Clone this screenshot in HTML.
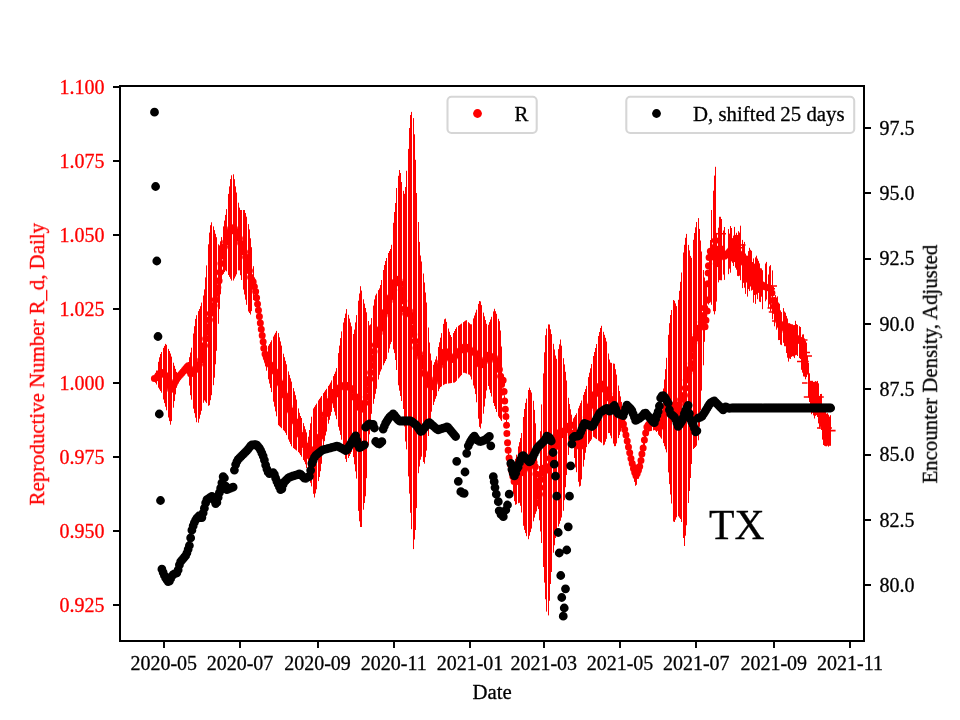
<!DOCTYPE html>
<html><head><meta charset="utf-8"><title>TX</title>
<style>
html,body{margin:0;padding:0;background:#fff;}
body{width:960px;height:720px;overflow:hidden;}
svg{display:block;}
text{font-family:"Liberation Serif",serif;font-size:20.83px;stroke-width:0.3px;stroke:#000;}
text[fill="#f00"]{stroke:#f00;}
.tk{font-size:20px;}
</style></head><body>
<svg width="960" height="720" viewBox="0 0 960 720">
<rect width="960" height="720" fill="#fff"/>
<defs><clipPath id="ax"><rect x="120.0" y="86.5" width="744.2" height="554.3"/></clipPath></defs>
<g clip-path="url(#ax)">
<path d="M154.5 375.7V381.2M155.5 373.1V382.8M156.5 370.5V384.5M158.5 361.8V387.7M159.5 357.3V389.4M160.5 354.0V391.0M161.5 352.0V392.7M163.5 347.9V399.5M164.5 345.9V403.1M165.5 343.9V406.7M166.5 344.8V410.3M168.5 348.9V417.5M169.5 351.0V421.1M170.5 353.5V424.7M171.5 356.6V421.1M173.5 362.7V407.7M174.5 365.8V401.1M175.5 368.9V394.4M176.5 371.9V387.7M178.5 373.9V379.8M179.5 372.8V378.6M180.5 371.7V377.4M181.5 370.6V376.2M183.5 368.3V373.8M184.5 367.2V372.6M185.5 366.1V371.4M186.5 365.0V370.2M188.5 362.0V370.9M189.5 357.2V385.6M190.5 352.5V395.2M191.5 347.7V399.7M193.5 333.5V408.7M194.5 326.2V413.2M195.5 318.9V417.7M196.5 315.2V422.2M198.5 311.1V422.7M199.5 309.0V418.7M200.5 306.2V414.7M201.5 302.6V410.8M203.5 295.5V402.8M204.5 289.4V400.4M205.5 277.4V401.7M206.5 265.4V403.1M208.5 244.3V405.8M209.5 232.6V405.2M210.5 225.2V400.2M211.5 222.3V395.2M213.5 226.4V385.2M214.5 230.1V377.7M215.5 233.8V364.3M216.5 237.2V350.8M218.5 244.3V323.8M219.5 245.4V309.1M220.5 241.3V294.3M221.5 237.1V279.6M223.5 226.4V273.8M224.5 220.6V272.1M225.5 214.9V270.5M226.5 209.1V271.3M228.5 193.9V275.0M229.5 186.4V276.9M230.5 179.1V278.8M231.5 175.3V280.6M233.5 174.3V280.5M234.5 179.2V278.5M235.5 186.4V276.5M236.5 192.5V274.4M238.5 202.7V270.4M239.5 207.6V270.4M240.5 210.0V275.2M241.5 210.0V280.0M243.5 210.0V289.6M244.5 210.0V294.5M245.5 213.0V299.7M246.5 216.7V304.8M248.5 224.1V311.5M249.5 229.4V313.0M250.5 238.3V314.5M251.5 247.2V311.1M253.5 266.2V300.0M254.5 281.0V293.3M255.5 287.4V293.5M256.5 293.8V300.5M258.5 306.7V314.5M259.5 313.1V321.4M260.5 319.5V328.4M261.5 325.9V335.4M263.5 338.8V351.4M264.5 342.7V362.1M265.5 344.1V366.4M266.5 345.6V370.7M268.5 345.7V379.3M269.5 344.1V383.6M270.5 342.2V387.9M271.5 340.3V392.1M273.5 336.5V401.7M274.5 334.6V406.6M275.5 332.8V411.4M276.5 330.9V416.3M278.5 333.1V425.2M279.5 337.3V426.2M280.5 341.4V427.2M281.5 345.6V428.2M283.5 353.7V430.2M284.5 357.2V431.2M285.5 360.8V432.8M286.5 364.3V435.1M288.5 371.4V439.5M289.5 374.9V441.8M290.5 378.3V444.0M291.5 381.6V446.3M293.5 388.1V448.1M294.5 391.4V448.9M295.5 395.2V449.7M296.5 399.6V450.5M298.5 408.4V452.1M299.5 412.8V453.3M300.5 416.0V455.0M301.5 418.0V456.7M303.5 423.1V460.0M304.5 426.2V461.7M305.5 429.3V464.3M306.5 432.4V468.0M308.5 436.7V475.4M309.5 430.0V479.1M310.5 423.3V482.8M311.5 416.7V486.4M313.5 408.4V493.8M314.5 406.8V497.5M315.5 405.2V493.4M316.5 403.6V489.3M318.5 400.4V481.1M319.5 398.9V477.0M320.5 397.5V471.2M321.5 396.0V463.8M323.5 393.1V448.8M324.5 391.7V441.2M325.5 390.2V435.5M326.5 388.8V431.6M328.5 385.9V423.7M329.5 384.5V419.8M330.5 382.6V415.8M331.5 380.4V411.9M333.5 376.1V407.9M334.5 373.9V411.7M335.5 371.6V415.5M336.5 368.1V419.2M338.5 353.1V426.8M339.5 345.6V430.6M340.5 338.1V434.9M341.5 331.4V439.7M343.5 322.5V449.3M344.5 318.0V454.1M345.5 313.6V458.9M346.5 309.1V462.0M348.5 314.8V458.0M349.5 318.6V456.0M350.5 322.5V454.0M351.5 326.3V452.0M353.5 334.0V457.1M354.5 329.6V464.3M355.5 322.4V471.4M356.5 315.1V478.6M358.5 300.7V510.9M359.5 293.5V521.3M360.5 286.2V527.0M361.5 290.6V527.0M363.5 299.3V509.7M364.5 303.6V503.0M365.5 308.0V496.3M366.5 312.3V478.2M368.5 321.0V445.3M369.5 325.3V434.3M370.5 324.4V423.3M371.5 318.1V413.8M373.5 305.6V403.8M374.5 299.4V398.8M375.5 295.4V393.8M376.5 293.6V388.8M378.5 290.1V379.5M379.5 288.4V374.8M380.5 285.0V371.5M381.5 280.0V369.4M383.5 270.0V365.3M384.5 265.0V363.2M385.5 261.0V361.1M386.5 258.0V359.1M388.5 253.0V352.7M389.5 251.0V348.5M390.5 249.0V344.2M391.5 244.8V341.9M393.5 222.8V349.4M394.5 212.0V353.1M395.5 203.0V360.0M396.5 188.0V370.0M398.5 175.8V385.3M399.5 170.0V390.7M400.5 173.0V396.0M401.5 182.0V401.0M403.5 190.8V409.0M404.5 193.8V426.5M405.5 187.0V441.5M406.5 170.8V449.4M408.5 148.9V476.4M409.5 128.0V493.6M410.5 115.0V512.8M411.5 111.9V529.2M413.5 118.1V549.1M414.5 134.3V539.5M415.5 159.8V530.0M416.5 193.0V508.1M418.5 222.0V473.2M419.5 241.9V466.5M420.5 255.5V459.7M421.5 261.5V456.7M423.5 273.5V462.0M424.5 282.5V463.7M425.5 292.5V457.2M426.5 302.5V450.6M428.5 327.5V436.0M429.5 342.5V427.5M430.5 353.5V418.9M431.5 360.5V411.7M433.5 364.8V405.0M434.5 362.2V401.7M435.5 359.5V398.8M436.5 356.3V396.2M438.5 347.0V391.2M439.5 342.3V388.8M440.5 337.7V387.1M441.5 333.1V386.4M443.5 323.9V385.1M444.5 319.3V384.4M445.5 318.6V383.9M446.5 321.9V383.8M448.5 328.5V383.5M449.5 331.8V383.3M450.5 335.0V383.2M451.5 337.0V383.0M453.5 333.0V382.7M454.5 331.0V382.6M455.5 329.0V381.9M456.5 327.3V380.8M458.5 325.8V378.5M459.5 325.1V377.4M460.5 324.3V376.2M461.5 323.6V375.1M463.5 322.1V372.8M464.5 321.3V372.8M465.5 320.6V373.2M466.5 320.2V373.6M468.5 322.2V374.4M469.5 323.2V374.8M470.5 324.2V376.5M471.5 324.3V379.5M473.5 318.4V385.5M474.5 315.5V388.5M475.5 312.6V394.1M476.5 309.7V402.3M478.5 303.9V418.7M479.5 301.0V426.9M480.5 301.4V428.5M481.5 305.1V423.6M483.5 312.6V413.7M484.5 316.3V406.5M485.5 320.0V398.5M486.5 323.8V390.5M488.5 324.8V386.0M489.5 322.1V389.5M490.5 319.5V393.0M491.5 316.8V396.5M493.5 311.4V403.0M494.5 308.8V406.0M495.5 311.2V409.0M496.5 313.8V412.0M498.5 318.8V416.5M499.5 321.2V418.0M500.5 330.5V419.5M501.5 346.5V421.0M503.5 378.0V384.0M504.5 395.3V401.3M505.5 408.2V414.2M506.5 420.0V426.0M508.5 450.2V456.2M509.5 457.4V463.4M510.5 462.3V468.3M511.5 464.0V476.2M513.5 464.8V493.8M514.5 462.9V501.2M515.5 458.8V504.8M516.5 454.7V504.2M518.5 446.4V503.2M519.5 442.2V502.8M520.5 438.1V505.8M521.5 433.0V512.5M523.5 417.0V525.8M524.5 409.0V529.9M525.5 402.9V533.1M526.5 398.6V536.2M528.5 390.0V539.2M529.5 387.7V535.7M530.5 390.1V532.1M531.5 392.5V528.6M533.5 400.8V521.3M534.5 409.9V517.6M535.5 423.3V513.9M536.5 450.0V511.4M538.5 498.0V509.0M539.5 466.0V520.3M540.5 431.2V531.5M541.5 404.4V543.0M543.5 373.4V567.0M544.5 352.3V582.6M545.5 335.2V599.3M546.5 328.6V611.6M548.5 324.4V615.4M549.5 324.5V600.8M550.5 329.3V584.0M551.5 334.1V572.0M553.5 343.8V552.7M554.5 349.5V545.3M555.5 355.5V538.0M556.5 358.8V531.8M558.5 349.1V526.5M559.5 344.3V523.8M560.5 339.5V520.8M561.5 345.7V517.5M563.5 358.2V510.8M564.5 364.4V500.2M565.5 371.8V487.2M566.5 380.5V475.0M568.5 397.8V455.0M569.5 404.0V447.1M570.5 409.3V441.4M571.5 414.7V435.7M573.5 418.3V444.0M574.5 416.7V458.0M575.5 415.0V467.4M576.5 413.3V472.2M578.5 408.3V481.8M579.5 405.7V486.6M580.5 403.1V485.8M581.5 400.5V479.4M583.5 394.9V466.6M584.5 392.0V459.8M585.5 389.1V452.8M586.5 385.9V447.1M588.5 377.1V444.1M589.5 372.7V442.5M590.5 368.3V441.0M591.5 364.0V439.5M593.5 356.0V436.9M594.5 352.0V437.6M595.5 348.0V438.4M596.5 344.0V439.1M598.5 336.0V440.6M599.5 332.0V441.3M600.5 328.0V442.1M601.5 325.8V442.8M603.5 331.8V445.3M604.5 334.8V444.6M605.5 337.8V441.7M606.5 341.5V438.9M608.5 353.5V433.1M609.5 359.5V433.0M610.5 362.6V435.6M611.5 362.9V438.3M613.5 363.5V443.6M614.5 363.8V446.2M615.5 369.2V446.1M616.5 374.6V443.4M618.5 385.5V438.1M619.5 391.0V435.0M620.5 396.4V431.7M621.5 401.9V428.3M623.5 417.7V430.5M624.5 421.0V436.0M625.5 424.3V441.3M626.5 428.8V446.4M628.5 438.1V456.0M629.5 442.6V460.8M630.5 447.3V465.6M631.5 451.4V470.0M633.5 459.1V477.9M634.5 462.1V481.9M635.5 464.3V485.8M636.5 464.6V484.8M638.5 461.8V478.6M639.5 459.1V475.5M640.5 454.9V471.1M641.5 447.7V465.4M643.5 438.4V453.5M644.5 433.0V445.8M645.5 427.9V439.5M646.5 423.0V434.5M648.5 417.6V431.6M649.5 415.2V431.4M650.5 414.4V431.1M651.5 415.2V430.9M653.5 416.8V430.4M654.5 417.6V430.1M655.5 418.2V430.7M656.5 418.6V432.0M658.5 419.4V434.7M659.5 419.8V436.0M660.5 415.5V437.4M661.5 406.5V438.7M663.5 388.5V443.1M664.5 379.5V446.2M665.5 369.2V449.3M666.5 357.8V452.4M668.5 334.8V472.4M669.5 323.2V484.1M670.5 315.0V494.5M671.5 310.0V503.5M673.5 300.0V521.5M674.5 300.8V522.0M675.5 303.4V519.7M676.5 306.1V517.3M678.5 299.8V516.3M679.5 290.8V517.7M680.5 281.8V519.0M681.5 272.5V522.0M683.5 252.5V538.0M684.5 244.8V546.0M685.5 237.8V535.7M686.5 233.9V525.3M688.5 244.9V503.0M689.5 250.4V491.0M690.5 255.9V478.0M691.5 257.8V464.0M693.5 239.8V449.0M694.5 233.0V448.0M695.5 227.3V447.0M696.5 222.0V445.7M698.5 218.1V440.3M699.5 228.9V426.8M700.5 240.5V410.2M701.5 251.5V390.6M703.5 270.0V365.3M704.5 277.5V341.8M705.5 285.0V325.5M706.5 286.5V316.5M708.5 272.0V304.5M709.5 256.0V301.5M710.5 240.0V301.6M711.5 210.0V304.8M713.5 190.7V311.2M714.5 175.6V314.4M715.5 166.8V311.2M716.5 232.9V301.6M718.5 227.7V282.4M719.5 216.8V280.1M720.5 216.8V280.2M721.5 219.0V280.3M723.5 230.5V274.6M724.5 227.0V279.9M728.5 229.1V274.2M729.5 233.6V268.7M730.5 226.0V272.7M731.5 228.0V261.4M732.5 238.1V262.8M733.5 235.6V266.0M734.5 226.9V262.1M735.5 234.9V267.7M736.5 232.8V269.7M737.5 235.0V275.9M738.5 231.2V276.2M739.5 232.6V275.7M740.5 225.7V280.2M742.5 239.9V288.1M743.5 244.0V282.9M744.5 241.9V287.7M745.5 253.6V293.9M746.5 255.5V282.5M747.5 255.7V296.6M748.5 251.1V289.1M749.5 247.8V291.1M750.5 249.8V286.5M751.5 250.8V290.6M752.5 262.0V289.9M753.5 258.4V302.7M754.5 263.6V295.0M755.5 257.4V303.9M756.5 255.7V294.5M757.5 258.6V299.2M758.5 260.8V292.9M759.5 263.4V301.7M760.5 268.2V302.1M761.5 268.4V296.7M762.5 270.2V309.2M765.5 263.5V301.3M766.5 261.9V299.5M768.5 274.5V308.1M769.5 266.3V304.4M770.5 265.1V311.4M772.5 270.4V319.3M774.5 297.1V326.3M775.5 295.1V320.5M776.5 297.5V329.7M777.5 296.4V327.5M778.5 302.5V340.1M779.5 303.7V340.0M780.5 310.4V344.6M781.5 312.1V345.1M783.5 308.1V342.8M784.5 311.5V346.2M785.5 312.7V346.3M786.5 315.9V353.0M787.5 318.5V357.7M788.5 323.2V361.6M789.5 323.2V358.5M790.5 323.8V359.0M791.5 324.2V356.9M792.5 324.3V356.2M793.5 325.1V356.5M794.5 325.0V358.1M795.5 320.8V355.3M796.5 324.1V354.9M797.5 324.9V356.0M799.5 326.2V358.1M800.5 327.0V359.0M801.5 337.1V369.8M802.5 334.5V372.7M803.5 334.3V376.4M804.5 338.4V376.7M805.5 340.9V379.3M806.5 342.6V377.1M807.5 355.9V374.6M808.5 362.8V397.5M809.5 373.3V402.0M810.5 380.8V406.1M811.5 380.8V414.2M812.5 380.8V412.8M813.5 381.9V415.4M814.5 381.8V418.5M815.5 381.1V415.9M816.5 381.6V415.1M817.5 380.9V417.0M818.5 383.3V423.4M819.5 395.9V428.6M820.5 394.0V426.9M821.5 393.9V430.0M822.5 406.2V439.6M823.5 405.8V445.0M824.5 407.9V445.8M825.5 410.5V446.2M826.5 413.7V446.3M827.5 413.2V445.7M828.5 414.7V446.7M829.5 416.6V445.8M830.5 415.2V445.8" stroke="#f00" stroke-width="1" fill="none"/>
<path d="M716.0 233.8H726.0M717.5 252.0H722.5M717.5 259.4H722.5M740.0 245.0H745.6M740.5 247.8H744.5M771.0 286.0H777.0M771.0 288.8H775.0M768.8 312.0H772.5M767.5 308.0H771.0M772.0 321.0H774.5M801.0 340.0H807.5M806.0 352.5H810.0M807.0 356.0H812.0M797.0 361.5H808.8M802.0 383.0H807.5M803.8 397.0H823.8M817.0 428.0H832.0M827.5 430.6H835.6" stroke="#f00" stroke-width="1.6" fill="none"/>
<path d="M154.40 378.5h0M155.65 377.9h0M156.90 377.1h0M158.15 375.3h0M159.40 373.5h0M160.65 372.5h0M161.90 372.4h0M163.15 373.4h0M164.40 374.4h0M165.65 375.4h0M166.90 378.7h0M168.15 382.2h0M169.40 385.8h0M170.65 389.6h0M171.90 388.1h0M173.15 385.9h0M174.40 383.6h0M175.65 381.3h0M176.90 379.1h0M178.15 377.2h0M179.40 375.8h0M180.65 374.4h0M181.90 372.9h0M183.15 371.5h0M184.40 370.0h0M185.65 368.6h0M186.90 367.1h0M188.15 365.7h0M189.40 371.0h0M190.65 373.8h0M191.90 373.4h0M193.15 371.6h0M194.40 369.9h0M195.65 368.1h0M196.90 369.2h0M198.15 368.0h0M199.40 364.2h0M200.65 359.9h0M201.90 355.2h0M203.15 350.5h0M204.40 345.4h0M205.65 338.8h0M206.90 332.3h0M208.15 326.8h0M209.40 319.7h0M210.34 313.4h0M211.59 308.4h0M212.84 306.2h0M214.09 305.4h0M215.34 299.8h0M216.59 293.6h0M217.84 287.4h0M219.09 280.7h0M220.03 272.3h0M220.96 263.4h0M221.90 255.9h0M223.15 251.4h0M224.40 246.8h0M225.65 242.1h0M226.90 239.2h0M228.15 235.5h0M229.40 231.9h0M230.65 228.5h0M231.90 228.2h0M233.15 227.8h0M234.40 228.6h0M235.65 231.8h0M236.90 234.1h0M238.15 236.0h0M239.40 238.5h0M240.65 243.0h0M241.90 246.0h0M243.15 249.0h0M244.40 252.0h0M245.65 257.0h0M246.90 262.5h0M248.15 266.9h0M249.40 270.7h0M250.65 277.2h0M251.90 279.8h0M253.15 282.0h0M254.40 286.8h0M255.65 291.5h0M256.59 297.7h0M257.52 304.0h0M258.46 310.3h0M259.40 316.6h0M260.34 322.9h0M261.27 329.2h0M262.21 335.5h0M263.15 341.7h0M263.77 348.3h0M265.02 353.9h0M266.27 357.5h0M267.52 361.0h0M268.77 362.9h0M270.02 364.4h0M271.27 365.9h0M272.52 367.7h0M273.77 369.5h0M275.02 371.4h0M276.27 373.2h0M277.52 375.2h0M278.77 379.9h0M280.02 383.1h0M281.27 386.3h0M282.52 389.5h0M283.77 392.6h0M285.02 395.4h0M286.27 399.0h0M287.52 402.6h0M288.77 406.3h0M290.02 409.9h0M291.27 413.3h0M292.52 416.1h0M293.77 418.7h0M295.02 421.2h0M296.27 424.5h0M297.52 427.7h0M298.77 431.0h0M300.02 434.6h0M301.27 436.9h0M302.52 439.2h0M303.77 442.2h0M305.02 445.2h0M306.27 449.5h0M307.52 453.7h0M308.77 455.6h0M310.02 453.8h0M311.27 451.9h0M312.52 450.1h0M313.77 451.4h0M315.02 450.7h0M316.27 447.1h0M317.52 443.5h0M318.77 440.0h0M320.02 436.5h0M321.27 430.9h0M322.52 425.3h0M323.77 419.7h0M325.02 414.2h0M326.27 410.8h0M327.52 407.4h0M328.77 404.1h0M330.02 400.7h0M331.27 396.9h0M332.52 393.0h0M333.77 392.2h0M335.02 393.2h0M336.27 394.1h0M337.52 391.8h0M338.77 389.5h0M340.02 387.2h0M341.27 385.5h0M342.52 385.7h0M343.77 385.9h0M345.02 386.2h0M346.27 386.3h0M347.52 385.5h0M348.77 386.6h0M350.02 387.8h0M351.27 389.0h0M352.52 390.2h0M353.77 397.0h0M355.02 396.9h0M356.27 396.9h0M357.52 401.0h0M358.77 407.2h0M360.02 407.0h0M361.27 409.3h0M362.52 406.5h0M363.77 404.1h0M365.02 402.7h0M366.27 396.9h0M367.21 389.9h0M368.46 383.3h0M369.71 379.1h0M370.65 372.5h0M371.59 365.4h0M372.84 358.4h0M374.09 351.4h0M375.34 345.1h0M376.59 340.9h0M377.84 336.9h0M379.09 332.9h0M380.34 328.8h0M381.59 324.4h0M382.84 320.0h0M384.09 315.6h0M385.34 311.5h0M386.59 308.3h0M387.84 304.9h0M389.09 301.0h0M390.34 297.1h0M391.59 293.0h0M392.84 288.5h0M394.09 284.0h0M395.34 281.4h0M396.59 279.2h0M397.84 280.8h0M399.09 280.4h0M400.34 283.8h0M401.27 290.0h0M402.52 295.8h0M403.77 301.1h0M404.40 308.9h0M405.65 313.6h0M406.90 310.1h0M408.15 312.1h0M409.40 310.9h0M410.65 315.1h0M411.59 321.2h0M412.52 328.4h0M413.77 334.5h0M415.02 341.1h0M415.96 347.9h0M417.21 346.9h0M418.46 347.5h0M419.40 353.5h0M420.65 357.5h0M421.90 360.8h0M423.15 366.2h0M424.40 372.9h0M425.65 375.1h0M426.90 377.2h0M428.15 380.6h0M429.40 384.7h0M430.65 386.1h0M431.90 386.8h0M433.15 386.0h0M434.40 382.2h0M435.65 378.7h0M436.90 374.9h0M438.15 370.4h0M439.40 365.9h0M440.65 362.0h0M441.90 358.7h0M443.15 355.4h0M444.40 352.1h0M445.65 351.5h0M446.90 353.5h0M448.15 355.4h0M449.40 357.4h0M450.65 359.3h0M451.90 359.6h0M453.15 358.2h0M454.40 356.9h0M455.65 355.2h0M456.90 353.7h0M458.15 352.5h0M459.40 351.3h0M460.65 350.1h0M461.90 348.9h0M463.15 347.8h0M464.40 347.1h0M465.65 346.9h0M466.90 347.2h0M468.15 348.1h0M469.40 349.0h0M470.65 350.7h0M471.90 351.9h0M473.15 352.0h0M474.40 352.0h0M475.65 353.8h0M476.90 357.1h0M478.15 360.4h0M479.40 363.7h0M480.65 364.9h0M481.90 364.1h0M483.15 363.4h0M484.40 361.6h0M485.65 358.9h0M486.90 356.3h0M488.15 355.3h0M489.40 355.8h0M490.65 356.3h0M491.90 356.8h0M493.15 357.2h0M494.40 357.4h0M495.65 360.5h0M496.90 364.0h0M498.15 366.9h0M499.40 369.4h0M500.65 376.3h0M501.59 384.5h0M502.52 392.0h0M503.15 380.3h0M504.09 391.5h0M504.71 401.1h0M505.34 409.2h0M505.96 416.6h0M506.59 425.3h0M506.90 433.4h0M507.52 442.8h0M508.15 450.2h0M509.09 458.1h0M510.34 464.5h0M511.59 470.5h0M512.84 476.5h0M514.09 481.4h0M515.34 482.1h0M516.59 479.2h0M517.84 476.4h0M519.09 473.5h0M520.34 471.8h0M521.59 472.7h0M522.84 471.9h0M524.09 470.4h0M525.34 468.0h0M526.59 467.4h0M527.84 466.7h0M529.09 462.3h0M530.34 461.2h0M531.59 460.5h0M532.84 460.8h0M534.09 462.4h0M535.34 466.7h0M535.96 473.9h0M536.59 481.7h0M537.21 488.8h0M537.84 495.9h0M538.46 503.1h0M539.40 494.2h0M540.02 487.6h0M540.65 479.4h0M541.59 473.3h0M542.84 471.7h0M544.09 467.9h0M545.34 467.3h0M546.59 470.1h0M547.84 470.0h0M549.09 466.5h0M550.02 458.3h0M551.27 453.9h0M552.52 449.4h0M553.77 447.9h0M555.02 447.1h0M556.27 446.2h0M557.52 441.5h0M558.77 436.8h0M560.02 432.1h0M561.27 431.3h0M562.52 433.1h0M563.77 434.8h0M565.02 430.6h0M566.27 427.9h0M567.52 427.1h0M568.77 426.2h0M570.02 425.5h0M571.27 425.2h0M572.52 425.2h0M573.77 432.9h0M575.02 440.5h0M576.27 442.4h0M577.52 444.0h0M578.77 445.4h0M580.02 446.6h0M581.27 441.0h0M582.52 435.2h0M583.77 429.4h0M585.02 423.3h0M586.27 417.2h0M587.52 413.5h0M588.77 409.8h0M590.02 406.1h0M591.27 402.4h0M592.52 398.9h0M593.77 396.0h0M595.02 393.9h0M596.27 391.9h0M597.52 389.9h0M598.77 387.9h0M600.02 385.8h0M601.27 383.9h0M602.52 386.5h0M603.77 389.1h0M605.02 389.7h0M606.27 389.8h0M607.52 391.8h0M608.77 393.7h0M610.02 398.5h0M611.27 400.3h0M612.52 402.1h0M613.77 403.9h0M615.02 407.0h0M616.27 408.7h0M617.52 410.4h0M618.77 412.1h0M620.02 413.6h0M621.27 414.9h0M622.52 417.7h0M623.46 423.9h0M624.71 429.4h0M625.96 435.0h0M627.21 441.0h0M628.46 446.9h0M629.71 452.7h0M630.96 458.6h0M632.21 463.5h0M633.46 468.4h0M634.71 472.6h0M635.96 475.7h0M637.21 473.4h0M638.46 470.3h0M639.71 466.5h0M640.96 460.4h0M641.90 454.1h0M643.15 448.0h0M644.40 440.1h0M645.65 432.9h0M646.90 427.0h0M648.15 425.1h0M649.40 423.4h0M650.65 422.8h0M651.90 423.1h0M653.15 423.5h0M654.40 423.8h0M655.65 424.6h0M656.90 425.7h0M658.15 426.7h0M659.40 427.8h0M660.65 425.9h0M661.90 421.1h0M663.15 416.8h0M664.40 413.1h0M665.65 408.6h0M666.90 404.1h0M668.15 403.6h0M669.40 403.7h0M670.65 405.0h0M671.90 407.5h0M673.15 410.0h0M674.40 411.4h0M675.65 411.6h0M676.90 411.8h0M678.15 409.4h0M679.40 404.6h0M680.65 399.8h0M681.90 396.9h0M683.15 395.6h0M684.40 395.3h0M685.34 388.1h0M686.27 380.1h0M687.52 377.1h0M688.77 373.0h0M690.02 369.0h0M691.27 363.5h0M691.90 356.3h0M692.52 349.3h0M693.77 343.0h0M695.02 338.7h0M696.27 334.6h0M697.52 331.7h0M698.77 328.3h0M700.02 327.4h0M701.27 322.0h0M702.52 320.4h0M703.77 315.4h0M704.71 307.9h0M705.02 326.8h0M705.96 320.2h0M707.21 311.0h0M707.52 300.0h0M707.84 283.7h0M708.15 273.0h0M708.46 265.7h0M709.09 257.6h0M710.34 251.3h0M711.59 257.1h0M712.84 253.1h0M714.09 247.5h0M715.34 240.5h0M715.96 253.8h0M716.27 263.8h0M717.52 261.8h0M718.46 255.3h0M719.40 249.0h0M720.65 248.7h0M721.90 252.3h0M723.15 256.2h0M724.40 256.3h0M725.65 255.2h0M726.90 254.1h0M728.15 253.0h0M729.40 251.5h0M730.65 249.9h0M731.90 250.1h0M733.15 250.7h0M734.40 250.6h0M735.65 250.5h0M736.90 251.4h0M738.15 252.6h0M739.40 253.9h0M740.65 256.7h0M741.90 260.2h0M743.15 261.7h0M744.40 263.1h0M745.65 269.0h0M746.90 271.2h0M748.15 272.1h0M749.40 273.0h0M750.65 274.1h0M751.90 275.6h0M753.15 277.1h0M754.40 278.2h0M755.65 279.0h0M756.90 280.2h0M758.15 281.6h0M759.40 282.9h0M760.65 283.8h0M761.90 284.7h0M763.15 285.5h0M764.40 286.1h0M765.65 286.9h0M766.90 287.4h0M768.15 287.8h0M769.40 288.1h0M770.65 288.5h0M771.90 293.1h0M772.84 300.5h0M774.09 306.6h0M775.34 310.7h0M776.59 311.5h0M777.84 313.5h0M778.46 320.4h0M779.71 323.5h0M780.96 326.5h0M782.21 327.2h0M783.46 327.2h0M784.71 327.2h0M785.96 331.0h0M786.90 337.8h0M788.15 340.9h0M789.40 339.6h0M790.65 340.0h0M791.90 339.9h0M793.15 339.9h0M794.40 339.9h0M795.65 339.8h0M796.90 339.3h0M798.15 338.7h0M799.40 340.5h0" stroke="#f00" stroke-width="7" stroke-linecap="round" fill="none"/>
<path d="M154.50 112.2h0M155.60 186.5h0M156.80 261.0h0M158.00 336.5h0M159.30 414.0h0M160.50 500.5h0M161.90 569.2h0M163.15 572.4h0M164.40 575.5h0M165.65 578.0h0M166.90 579.8h0M168.15 581.6h0M169.40 581.2h0M170.65 578.7h0M171.90 576.2h0M173.15 574.7h0M174.40 574.0h0M175.65 573.4h0M176.90 572.8h0M178.15 569.9h0M179.40 564.9h0M180.65 561.7h0M181.90 560.2h0M183.15 558.7h0M184.40 557.2h0M185.65 555.7h0M186.90 553.0h0M188.15 549.3h0M189.40 545.5h0M190.65 537.9h0M191.90 530.2h0M193.15 525.9h0M194.40 522.5h0M195.65 520.0h0M196.90 518.1h0M198.15 516.9h0M199.40 515.6h0M200.65 517.6h0M201.90 517.6h0M203.15 512.9h0M204.40 508.2h0M205.65 502.9h0M206.90 499.6h0M208.15 498.8h0M209.40 498.0h0M210.65 497.2h0M211.90 496.4h0M213.15 497.6h0M214.40 500.6h0M215.65 503.6h0M216.90 502.4h0M218.15 497.4h0M219.40 492.7h0M220.65 488.2h0M221.90 482.8h0M223.15 476.7h0M224.40 478.0h0M225.65 486.1h0M226.90 489.7h0M228.15 489.2h0M229.40 488.7h0M230.65 488.2h0M231.90 487.7h0M233.15 487.2h0M234.40 470.1h0M235.65 464.6h0M236.90 461.5h0M238.15 459.4h0M239.40 458.1h0M240.65 456.9h0M241.90 455.6h0M243.15 454.4h0M244.40 453.1h0M245.65 451.9h0M246.90 450.6h0M248.15 449.1h0M249.40 447.5h0M250.65 445.8h0M251.90 444.9h0M253.15 444.8h0M254.40 444.7h0M255.65 444.6h0M256.90 445.2h0M258.15 446.7h0M259.40 448.1h0M260.65 450.3h0M261.90 453.2h0M263.15 456.1h0M264.40 460.1h0M265.65 465.1h0M266.90 469.1h0M268.15 472.2h0M269.40 473.6h0M270.65 473.3h0M271.90 473.0h0M273.15 472.6h0M274.40 474.4h0M275.65 478.2h0M276.90 481.4h0M278.15 484.2h0M279.40 486.9h0M280.65 489.7h0M281.90 488.8h0M283.15 484.5h0M284.40 481.9h0M285.65 480.6h0M286.90 479.4h0M288.15 478.1h0M289.40 477.3h0M290.65 476.9h0M291.90 476.4h0M293.15 476.0h0M294.40 475.6h0M295.65 475.2h0M296.90 474.8h0M298.15 474.4h0M299.40 473.9h0M300.65 474.4h0M301.90 475.6h0M303.15 476.9h0M304.40 478.1h0M305.65 478.4h0M306.90 477.7h0M308.15 477.0h0M309.40 476.3h0M310.65 470.3h0M311.90 463.4h0M313.15 460.4h0M314.40 457.4h0M315.65 455.5h0M316.90 454.5h0M318.15 453.5h0M319.40 452.5h0M320.65 451.5h0M321.90 450.5h0M323.15 449.8h0M324.40 449.5h0M325.65 449.2h0M326.90 448.8h0M328.15 448.5h0M329.40 448.2h0M330.65 447.8h0M331.90 447.5h0M333.15 447.2h0M334.40 446.8h0M335.65 446.5h0M336.90 446.2h0M338.15 446.4h0M339.40 447.1h0M340.65 447.8h0M341.90 448.5h0M343.15 449.2h0M344.40 449.9h0M345.65 450.7h0M346.90 449.9h0M348.15 447.9h0M349.40 445.8h0M350.65 443.8h0M351.90 441.7h0M353.15 439.6h0M354.40 437.6h0M355.65 435.8h0M356.90 440.4h0M358.15 445.0h0M359.40 447.6h0M360.65 447.1h0M361.90 446.5h0M363.15 445.7h0M364.40 444.8h0M365.65 427.2h0M366.90 426.0h0M368.15 424.7h0M369.40 424.0h0M370.65 424.2h0M371.90 424.3h0M373.15 424.4h0M374.40 428.0h0M375.65 441.5h0M376.90 442.6h0M378.15 443.7h0M379.40 444.0h0M380.65 442.8h0M381.90 441.7h0M383.15 429.1h0M384.40 426.1h0M385.65 423.2h0M386.90 421.1h0M388.15 419.1h0M389.40 417.3h0M390.65 416.2h0M391.90 415.1h0M393.15 413.9h0M394.40 415.2h0M395.65 416.8h0M396.90 418.4h0M398.15 420.0h0M399.40 421.0h0M400.65 421.0h0M401.90 421.0h0M403.15 421.0h0M404.40 421.0h0M405.65 421.0h0M406.90 421.0h0M408.15 421.0h0M409.40 421.0h0M410.65 421.0h0M411.90 421.7h0M413.15 422.7h0M414.40 423.7h0M415.65 424.7h0M416.90 425.9h0M418.15 427.8h0M419.40 429.6h0M420.65 431.5h0M421.90 431.2h0M423.15 429.6h0M424.40 428.0h0M425.65 426.4h0M426.90 424.8h0M428.15 423.2h0M429.40 422.6h0M430.65 423.7h0M431.90 424.8h0M433.15 425.9h0M434.40 427.0h0M435.65 428.1h0M436.90 429.2h0M438.15 429.9h0M439.40 429.5h0M440.65 429.0h0M441.90 428.6h0M443.15 428.2h0M444.40 427.8h0M445.65 427.3h0M446.90 426.9h0M448.15 427.5h0M449.40 429.0h0M450.65 430.5h0M451.90 432.0h0M453.15 433.5h0M454.40 435.0h0M455.65 436.5h0M470.65 441.0h0M471.90 439.2h0M473.15 437.3h0M474.40 436.1h0M475.65 438.0h0M476.90 439.8h0M478.15 440.7h0M479.40 441.4h0M480.65 441.5h0M481.90 441.1h0M483.15 440.6h0M484.40 440.2h0M485.65 439.5h0M486.90 438.4h0M488.15 437.4h0M489.40 436.3h0M511.90 469.3h0M513.15 473.3h0M514.40 475.9h0M515.65 473.2h0M516.90 469.0h0M518.15 466.9h0M519.40 463.0h0M520.65 459.4h0M521.90 456.4h0M523.15 455.6h0M524.40 456.9h0M525.65 458.1h0M526.90 459.4h0M528.15 460.6h0M529.40 461.9h0M530.65 461.2h0M531.90 458.7h0M533.15 456.2h0M534.40 453.7h0M535.65 451.2h0M536.90 448.7h0M538.15 446.9h0M539.40 445.6h0M540.65 444.4h0M541.90 443.1h0M543.15 441.9h0M544.40 440.6h0M545.65 438.7h0M546.90 436.2h0M548.15 436.8h0M549.40 437.6h0M550.65 439.6h0M573.15 437.5h0M574.40 436.5h0M575.65 436.3h0M576.90 436.2h0M578.15 436.0h0M579.40 435.3h0M580.65 432.2h0M581.90 429.1h0M583.15 425.9h0M584.40 423.4h0M585.65 423.9h0M586.90 424.4h0M588.15 424.9h0M589.40 425.4h0M590.65 425.9h0M591.90 426.5h0M593.15 425.5h0M594.40 423.1h0M595.65 420.7h0M596.90 418.4h0M598.15 416.0h0M599.40 413.6h0M600.65 412.1h0M601.90 411.3h0M603.15 410.5h0M604.40 409.7h0M605.65 409.0h0M606.90 408.5h0M608.15 409.8h0M609.40 411.1h0M610.65 410.7h0M611.90 408.7h0M613.15 406.7h0M614.40 405.5h0M615.65 408.6h0M616.90 411.8h0M618.15 413.6h0M619.40 414.1h0M620.65 414.7h0M621.90 415.2h0M623.15 415.7h0M624.40 412.3h0M625.65 408.3h0M626.90 405.2h0M628.15 406.4h0M629.40 407.7h0M630.65 408.9h0M631.90 410.5h0M633.15 413.8h0M634.40 417.1h0M635.65 420.4h0M636.90 420.0h0M638.15 419.2h0M639.40 418.3h0M640.65 417.4h0M641.90 416.4h0M643.15 414.9h0M644.40 413.3h0M645.65 413.2h0M646.90 414.6h0M648.15 416.0h0M649.40 417.4h0M650.65 418.8h0M651.90 420.4h0M653.15 422.0h0M654.40 422.7h0M655.65 419.0h0M656.90 415.2h0M658.15 411.5h0M659.40 406.0h0M660.65 398.0h0M661.90 396.0h0M663.15 395.6h0M664.40 396.9h0M665.65 398.6h0M666.90 400.8h0M668.15 403.0h0M669.40 409.8h0M670.65 413.8h0M671.90 414.9h0M673.15 415.9h0M674.40 417.0h0M675.65 419.3h0M676.90 422.8h0M678.15 426.3h0M679.40 424.9h0M680.65 423.0h0M681.90 421.0h0M683.15 417.8h0M684.40 413.7h0M685.65 410.4h0M686.90 407.8h0M688.15 405.3h0M689.40 413.6h0M690.65 419.6h0M691.90 422.2h0M693.15 424.7h0M694.40 428.2h0M695.65 431.9h0M696.90 430.8h0M698.15 418.1h0M699.40 417.6h0M700.65 417.1h0M701.90 416.4h0M703.15 414.5h0M704.40 412.6h0M705.65 410.6h0M706.90 408.5h0M708.15 406.4h0M709.40 404.3h0M710.65 402.9h0M711.90 402.2h0M713.15 401.4h0M714.40 401.0h0M715.65 402.3h0M716.90 403.6h0M718.15 404.8h0M719.40 406.1h0M720.65 407.4h0M721.90 408.6h0M723.15 409.9h0M724.40 408.5h0M725.65 406.9h0M726.90 407.3h0M728.15 407.9h0M729.40 408.4h0M730.65 408.1h0M731.90 408.0h0M733.15 408.0h0M734.40 408.0h0M735.65 408.0h0M736.90 408.0h0M738.15 408.0h0M739.40 408.0h0M740.65 408.0h0M741.90 408.0h0M743.15 408.0h0M744.40 408.0h0M745.65 408.0h0M746.90 408.0h0M748.15 408.0h0M749.40 408.0h0M750.65 408.0h0M751.90 408.0h0M753.15 408.0h0M754.40 408.0h0M755.65 408.0h0M756.90 408.0h0M758.15 408.0h0M759.40 408.0h0M760.65 408.0h0M761.90 408.0h0M763.15 408.0h0M764.40 408.0h0M765.65 408.0h0M766.90 408.0h0M768.15 408.0h0M769.40 408.0h0M770.65 408.0h0M771.90 408.0h0M773.15 408.0h0M774.40 408.0h0M775.65 408.0h0M776.90 408.0h0M778.15 408.0h0M779.40 408.0h0M780.65 408.0h0M781.90 408.0h0M783.15 408.0h0M784.40 408.0h0M785.65 408.0h0M786.90 408.0h0M788.15 408.0h0M789.40 408.0h0M790.65 408.0h0M791.90 408.0h0M793.15 408.0h0M794.40 408.0h0M795.65 408.0h0M796.90 408.0h0M798.15 408.0h0M799.40 408.0h0M800.65 408.0h0M801.90 408.0h0M803.15 408.0h0M804.40 408.0h0M805.65 408.0h0M806.90 408.0h0M808.15 408.0h0M809.40 408.0h0M810.65 408.0h0M811.90 408.0h0M813.15 408.0h0M814.40 408.0h0M815.65 408.0h0M816.90 408.0h0M818.15 408.0h0M819.40 408.0h0M820.65 408.0h0M821.90 408.0h0M823.15 408.0h0M824.40 408.0h0M825.65 408.0h0M826.90 408.0h0M828.15 408.0h0M829.40 408.0h0M830.65 408.0h0M456.70 461.3h0M458.30 481.3h0M460.80 491.7h0M462.50 493.0h0M464.20 493.3h0M465.00 472.0h0M466.70 453.3h0M468.30 445.8h0M469.60 443.0h0M490.80 445.8h0M493.30 476.7h0M494.20 481.7h0M495.00 487.5h0M496.30 494.2h0M498.30 501.7h0M499.20 510.8h0M501.00 514.5h0M503.30 516.7h0M505.80 510.0h0M507.50 505.0h0M509.20 494.2h0M510.80 463.3h0M551.25 441.0h0M553.00 452.5h0M554.25 464.2h0M555.50 476.2h0M556.75 496.2h0M558.25 532.5h0M559.25 553.0h0M560.75 575.5h0M561.75 597.5h0M563.25 616.2h0M564.25 608.0h0M565.50 588.8h0M566.75 550.0h0M568.25 526.8h0M569.50 496.2h0M570.65 465.8h0M571.90 444.0h0" stroke="#000" stroke-width="8.8" stroke-linecap="round" fill="none"/>
</g>
<rect x="120" y="86" width="744" height="555" fill="none" stroke="#000" stroke-width="2"/>
<path d="M164 641v7M240 641v7M318 641v7M394 641v7M470 641v7M544 641v7M620 641v7M696 641v7M774 641v7M850 641v7M120 87h-7M120 161h-7M120 235h-7M120 309h-7M120 383h-7M120 457h-7M120 531h-7M120 605h-7M864 128h7M864 193h7M864 259h7M864 324h7M864 389h7M864 455h7M864 520h7M864 585h7" stroke="#000" stroke-width="1.9" fill="none"/>
<g opacity="0.999">
<text class="tk" x="163.75" y="669.8" text-anchor="middle">2020-05</text>
<text class="tk" x="240.00" y="669.8" text-anchor="middle">2020-07</text>
<text class="tk" x="317.50" y="669.8" text-anchor="middle">2020-09</text>
<text class="tk" x="393.75" y="669.8" text-anchor="middle">2020-11</text>
<text class="tk" x="470.00" y="669.8" text-anchor="middle">2021-01</text>
<text class="tk" x="543.75" y="669.8" text-anchor="middle">2021-03</text>
<text class="tk" x="620.00" y="669.8" text-anchor="middle">2021-05</text>
<text class="tk" x="696.25" y="669.8" text-anchor="middle">2021-07</text>
<text class="tk" x="773.75" y="669.8" text-anchor="middle">2021-09</text>
<text class="tk" x="850.00" y="669.8" text-anchor="middle">2021-11</text>
<text class="tk" x="104.4" y="93.60" text-anchor="end" fill="#f00">1.100</text>
<text class="tk" x="104.4" y="167.70" text-anchor="end" fill="#f00">1.075</text>
<text class="tk" x="104.4" y="241.80" text-anchor="end" fill="#f00">1.050</text>
<text class="tk" x="104.4" y="315.90" text-anchor="end" fill="#f00">1.025</text>
<text class="tk" x="104.4" y="390.00" text-anchor="end" fill="#f00">1.000</text>
<text class="tk" x="104.4" y="464.10" text-anchor="end" fill="#f00">0.975</text>
<text class="tk" x="104.4" y="538.20" text-anchor="end" fill="#f00">0.950</text>
<text class="tk" x="104.4" y="612.30" text-anchor="end" fill="#f00">0.925</text>
<text class="tk" x="879.4" y="134.70">97.5</text>
<text class="tk" x="879.4" y="200.06">95.0</text>
<text class="tk" x="879.4" y="265.41">92.5</text>
<text class="tk" x="879.4" y="330.77">90.0</text>
<text class="tk" x="879.4" y="396.13">87.5</text>
<text class="tk" x="879.4" y="461.49">85.0</text>
<text class="tk" x="879.4" y="526.84">82.5</text>
<text class="tk" x="879.4" y="592.20">80.0</text>
<text x="492.1" y="698.8" text-anchor="middle">Date</text>
<text transform="translate(44,364.2) rotate(-90)" text-anchor="middle" fill="#f00">Reproductive Number R_d, Daily</text>
<text transform="translate(936.9,364.2) rotate(-90)" text-anchor="middle">Encounter Density, Adjusted</text>
<text x="709" y="538.8" style="font-size:41.67px">TX</text>
</g>
<rect x="447.5" y="96.8" width="89.2" height="36.2" rx="4" ry="4" fill="#fff" fill-opacity="0.8" stroke="#ccc" stroke-width="2.08" stroke-opacity="0.8"/>
<circle cx="477.5" cy="113.5" r="4.4" fill="#f00"/>
<g opacity="0.999"><text x="514.6" y="120.6">R</text></g>
<rect x="626.3" y="96.8" width="227.9" height="36.2" rx="4" ry="4" fill="#fff" fill-opacity="0.8" stroke="#ccc" stroke-width="2.08" stroke-opacity="0.8"/>
<circle cx="656.5" cy="113.5" r="4.4" fill="#000"/>
<g opacity="0.999"><text x="693" y="120.6">D, shifted 25 days</text></g>
</svg>
</body></html>
